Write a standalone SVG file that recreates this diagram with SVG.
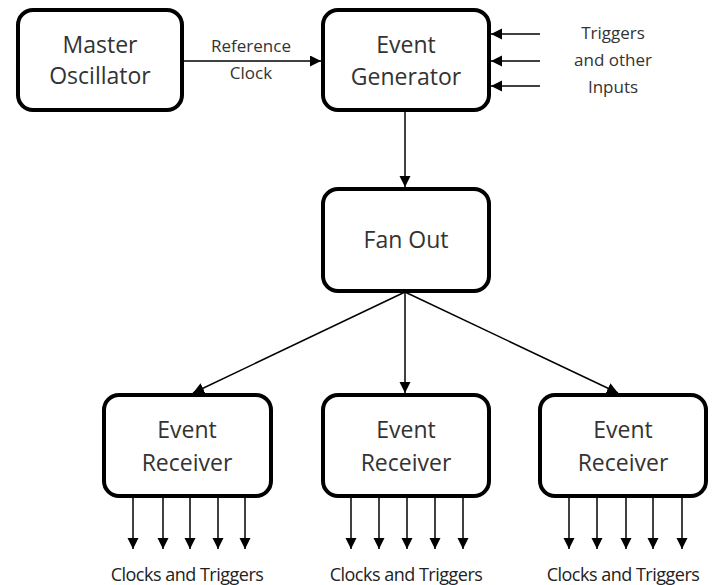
<svg xmlns="http://www.w3.org/2000/svg" width="713" height="585" viewBox="0 0 713 585">
<defs>
<marker id="ah" markerWidth="12" markerHeight="12" refX="11" refY="5.5" orient="auto" markerUnits="userSpaceOnUse">
<path d="M0,0 L11,5.5 L0,11 Z" fill="#000"/>
</marker>
<style>
.box{fill:#fff;stroke:#000;stroke-width:4}
.lbl{font-family:"Open Sans","Liberation Sans",sans-serif;font-size:23px;fill:#333;text-anchor:middle}
.sm{font-family:"Open Sans","Liberation Sans",sans-serif;font-size:17px;fill:#333;text-anchor:middle}
.out{font-family:"Open Sans","Liberation Sans",sans-serif;font-size:18px;fill:#222;text-anchor:middle;letter-spacing:-0.5px}
.c{stroke:#000;stroke-width:1.5;fill:none;marker-end:url(#ah)}
</style>
</defs>
<rect width="713" height="585" fill="#fff"/>
<g id="connectors">
<line class="c" x1="183" y1="61" x2="321" y2="61"/>
<line class="c" x1="540" y1="34" x2="491" y2="34"/>
<line class="c" x1="540" y1="61" x2="491" y2="61"/>
<line class="c" x1="540" y1="86" x2="491" y2="86"/>
<line class="c" x1="405" y1="111" x2="405" y2="187"/>
<line class="c" x1="405" y1="292" x2="193" y2="393"/>
<line class="c" x1="405" y1="292" x2="405" y2="393"/>
<line class="c" x1="405" y1="292" x2="618" y2="393"/>
<line class="c" x1="133" y1="497" x2="133" y2="549"/>
<line class="c" x1="163" y1="497" x2="163" y2="549"/>
<line class="c" x1="190" y1="497" x2="190" y2="549"/>
<line class="c" x1="218" y1="497" x2="218" y2="549"/>
<line class="c" x1="245" y1="497" x2="245" y2="549"/>
<line class="c" x1="351" y1="497" x2="351" y2="549"/>
<line class="c" x1="379" y1="497" x2="379" y2="549"/>
<line class="c" x1="407" y1="497" x2="407" y2="549"/>
<line class="c" x1="435" y1="497" x2="435" y2="549"/>
<line class="c" x1="463" y1="497" x2="463" y2="549"/>
<line class="c" x1="569" y1="497" x2="569" y2="549"/>
<line class="c" x1="597" y1="497" x2="597" y2="549"/>
<line class="c" x1="626" y1="497" x2="626" y2="549"/>
<line class="c" x1="653" y1="497" x2="653" y2="549"/>
<line class="c" x1="682" y1="497" x2="682" y2="549"/>
<text class="sm" x="251" y="52">Reference</text>
<text class="sm" x="251" y="79">Clock</text>
<text class="sm" x="613" y="39">Triggers</text>
<text class="sm" x="613" y="66">and other</text>
<text class="sm" x="613" y="93">Inputs</text>
<text class="out" x="187" y="581">Clocks and Triggers</text>
<text class="out" x="406" y="581">Clocks and Triggers</text>
<text class="out" x="623" y="581">Clocks and Triggers</text>
</g>
<g id="master">
<rect class="box" x="18" y="10" width="164" height="100" rx="15"/>
<text class="lbl" x="100" y="53">Master</text>
<text class="lbl" x="100" y="84">Oscillator</text>
</g>
<g id="generator">
<rect class="box" x="323" y="10" width="166" height="100" rx="15"/>
<text class="lbl" x="406" y="53">Event</text>
<text class="lbl" x="406" y="85">Generator</text>
</g>
<g id="fanout">
<rect class="box" x="323" y="189" width="166" height="102" rx="15"/>
<text class="lbl" x="406" y="248">Fan Out</text>
</g>
<g id="recv1">
<rect class="box" x="104" y="395" width="167" height="101" rx="15"/>
<text class="lbl" x="187" y="438">Event</text>
<text class="lbl" x="187" y="471">Receiver</text>
</g>
<g id="recv2">
<rect class="box" x="323" y="395" width="166" height="101" rx="15"/>
<text class="lbl" x="406" y="438">Event</text>
<text class="lbl" x="406" y="471">Receiver</text>
</g>
<g id="recv3">
<rect class="box" x="540" y="395" width="166" height="101" rx="15"/>
<text class="lbl" x="623" y="438">Event</text>
<text class="lbl" x="623" y="471">Receiver</text>
</g>
</svg>
